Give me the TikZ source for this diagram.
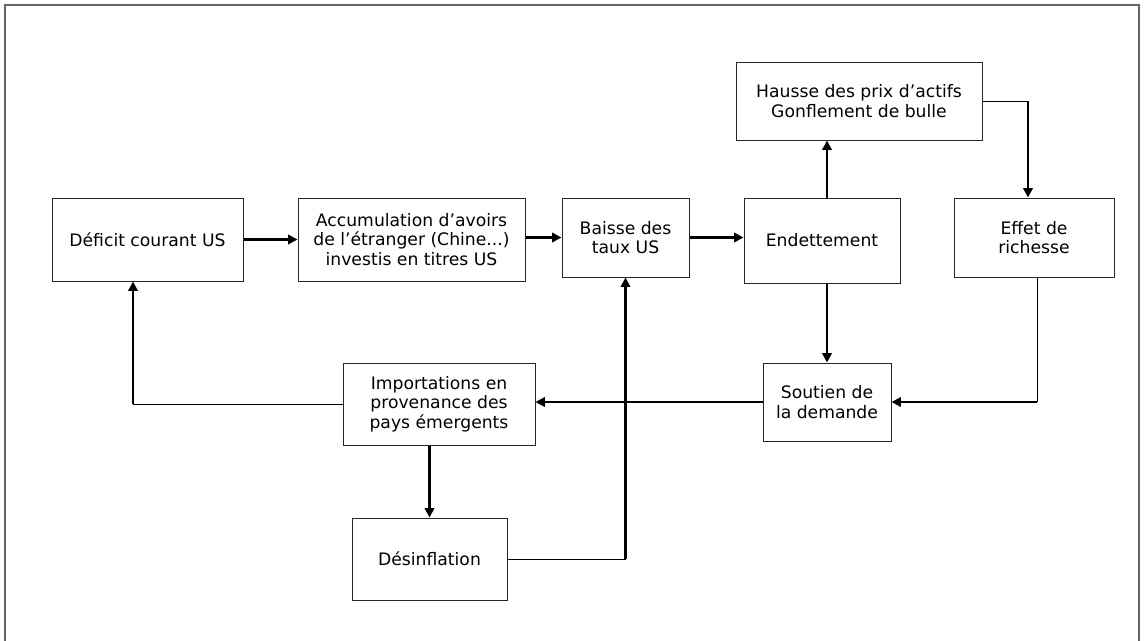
\documentclass[tikz,border=0pt]{standalone}
\usepackage{fontspec}
\setmainfont{DejaVu Sans}
\usetikzlibrary{arrows.meta}
\begin{document}
\begin{tikzpicture}[x=0.75pt,y=-0.75pt,
  box/.style={draw=black!85,line width=0.75pt,inner sep=0pt,align=center,
    font=\fontsize{12.9}{14.8}\selectfont},
  thk/.style={line width=1.7pt,-{Triangle[length=7pt,width=7pt]}},
  thn/.style={line width=0.75pt},
]
\useasboundingbox (0,0) rectangle (1145,640);
\draw[line width=1.5pt,draw=black!60] (5,660) -- (5,5) -- (1139,5) -- (1139,660);

\node[box,minimum width={191*0.75pt},minimum height={83*0.75pt}] (def) at (147.5,239.5) {Déficit courant US};
\node[box,minimum width={227*0.75pt},minimum height={83*0.75pt}] (acc) at (411.5,239.5) {Accumulation d’avoirs\\de l’étranger (Chine...)\\investis en titres US};
\node[box,minimum width={127*0.75pt},minimum height={79*0.75pt}] (bai) at (625.5,237.5) {Baisse des\\taux US};
\node[box,minimum width={156*0.75pt},minimum height={85*0.75pt}] (end) at (822,240.5) {Endettement};
\node[box,minimum width={246*0.75pt},minimum height={78*0.75pt}] (hau) at (859,101) {Hausse des prix d’actifs\\Gonflement de bulle};
\node[box,minimum width={160*0.75pt},minimum height={79*0.75pt}] (eff) at (1034,237.5) {Effet de\\richesse};
\node[box,minimum width={128*0.75pt},minimum height={78*0.75pt}] (sou) at (827,402) {Soutien de\\la demande};
\node[box,minimum width={192*0.75pt},minimum height={82*0.75pt}] (imp) at (439,404) {Importations en\\provenance des\\pays émergents};
\node[box,minimum width={155*0.75pt},minimum height={82*0.75pt}] (des) at (429.5,559) {Désinflation};

\coordinate (c1) at (1028,101);
\coordinate (c2) at (1037,402);
\coordinate (c3) at (133,404);

\draw[thk] (def.east) -- (def.east -| acc.west);
\draw[thk] (acc.east |- bai.west) -- (bai.west);
\draw[thk] (bai.east) -- (bai.east -| end.west);
\draw[thk] (sou.north |- end.north) -- (sou.north |- hau.south);
\draw[thn] (hau.east) -- (c1);
\draw[thk] (c1) -- (c1 |- eff.north);
\draw[thn] (c2 |- eff.south) -- (c2);
\draw[thk] (c2) -- (sou.east);
\draw[thk] (sou.north |- end.south) -- (sou.north);
\draw[thk] (sou.west) -- (sou.west -| imp.east);
\draw[thn] (imp.west) -- (c3);
\draw[thk] (c3) -- (c3 |- def.south);
\draw[thk] (des.north |- imp.south) -- (des.north);
\draw[thn] (des.east) -- (bai.south |- des.east);
\draw[thk] (bai.south |- des.east) -- (bai.south);
\end{tikzpicture}
\end{document}
